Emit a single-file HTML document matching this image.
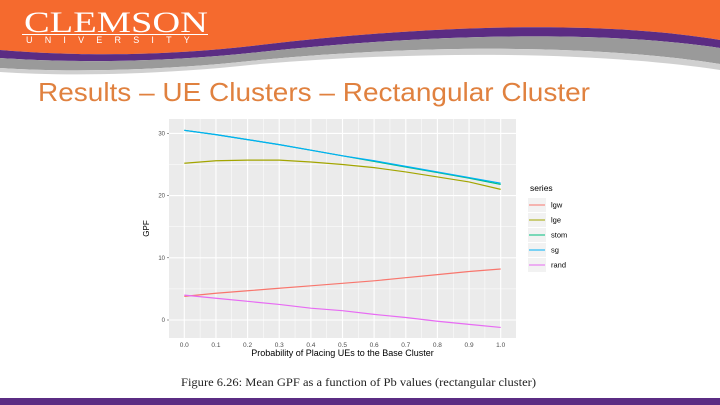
<!DOCTYPE html>
<html><head><meta charset="utf-8"><style>
body{margin:0;width:720px;height:405px;overflow:hidden;background:#fff;font-family:"Liberation Sans",sans-serif}
svg{position:absolute;left:0;top:0}
</style></head><body>
<svg width="720" height="405">
<g>
<path d="M0,0H720V40C600,20 430,25 260,45C150,58 60,55 0,50Z" fill="#F56A2E"/>
<path d="M0,50C60,55 150,58 260,45C430,25 600,20 720,40V48C600,30 430,34 260,52C150,64 60,62 0,58Z" fill="#5B2C83"/>
<path d="M720,48C600,30 430,34 260,52C150,64 60,62 0,58V68C60,72 150,72 260,60C430,44 600,45 720,64Z" fill="#9a9a9a"/>
<path d="M720,64C600,45 430,44 260,60C150,72 60,72 0,68V72C60,76 150,76 260,64C430,50 600,52 720,70Z" fill="#d0d0d0"/>
<text x="24" y="32" font-family="Liberation Serif,serif" font-size="30" fill="#fff" textLength="184" lengthAdjust="spacingAndGlyphs">CLEMSON</text>
<line x1="22" y1="34.5" x2="208" y2="34.5" stroke="#fff" stroke-width="1"/>
<text x="26" y="43" font-size="9" fill="#fff" letter-spacing="12.2">UNIVERSITY</text>
</g>
<text x="38" y="101" font-size="26" fill="#E0813F" textLength="552" lengthAdjust="spacingAndGlyphs">Results – UE Clusters – Rectangular Cluster</text>
<rect x="0" y="398" width="720" height="7" fill="#5B2C83"/>
<g id="chart"></g>
<text x="181" y="386" font-family="Liberation Serif,serif" font-size="12" fill="#222" textLength="355" lengthAdjust="spacingAndGlyphs">Figure 6.26: Mean GPF as a function of Pb values (rectangular cluster)</text>
</svg>
<script>
const xs=[0,0.1,0.2,0.3,0.4,0.5,0.6,0.7,0.8,0.9,1.0];
const lgw=[3.8,4.3,4.7,5.1,5.5,5.9,6.3,6.8,7.3,7.8,8.2];
const lge=[25.2,25.6,25.7,25.7,25.4,25.0,24.5,23.8,23.0,22.2,21.0];
const stom=[30.5,29.8,29.0,28.2,27.3,26.4,25.5,24.6,23.7,22.8,21.8];
const sg=[30.5,29.8,29.0,28.2,27.3,26.4,25.6,24.7,23.8,22.9,22.0];
const rand=[4.0,3.5,3.0,2.5,1.9,1.5,0.9,0.4,-0.2,-0.7,-1.2];
const yTicks=[0,10,20,30];
const xTicks=[0,0.1,0.2,0.3,0.4,0.5,0.6,0.7,0.8,0.9,1.0];
const seriesNames=["lgw","lge","stom","sg","rand"];
const colors=["#F8766D","#A3A500","#00BF7D","#00B0F6","#E76BF3"];
const NS="http://www.w3.org/2000/svg";
const g=document.getElementById('chart');
const L=169,R=516,T=119,B=338;
const X=v=>184.3+v*(500.7-184.3);
const Y=v=>320-v*6.22;
function el(t,a,p){const e=document.createElementNS(NS,t);for(const k in a)e.setAttribute(k,a[k]);(p||g).appendChild(e);return e;}
const bg=el('rect',{x:L,y:T,width:R-L,height:B-T,fill:'#EBEBEB'});


for(let v=-5;v<=35;v+=5){const y=Y(v);if(y<T||y>B)continue;el('line',{x1:L,x2:R,y1:y,y2:y,stroke:'#fff','stroke-width':v%10==0?1.1:0.5});}
for(let i=-1;i<=21;i++){const v=i*0.05,x=X(v);if(x<L||x>R)continue;el('line',{x1:x,x2:x,y1:T,y2:B,stroke:'#fff','stroke-width':i%2==0?1.1:0.5});}
yTicks.forEach(v=>{const t=el('text',{x:L-4,y:Y(v)+2,'font-size':6,'text-anchor':'end',fill:'#4d4d4d'});t.textContent=v;


el('line',{x1:L-2,x2:L,y1:Y(v),y2:Y(v),stroke:'#333','stroke-width':0.5});});
xTicks.forEach(v=>{const t=el('text',{x:X(v),y:B+9,'font-size':6.5,'text-anchor':'middle',fill:'#4d4d4d'});t.textContent=v.toFixed(1);

});
const xt=el('text',{x:(L+R)/2,y:B+18,'font-size':9,'text-anchor':'middle',fill:'#000'});xt.textContent='Probability of Placing UEs to the Base Cluster';


const yt=el('text',{x:0,y:0,'font-size':8,'text-anchor':'middle',fill:'#000',transform:`translate(${L-20},${(T+B)/2}) rotate(-90)`});yt.textContent='GPF';


[lgw,lge,stom,sg,rand].forEach((s,i)=>{const p=el('polyline',{points:s.map((v,j)=>X(xs[j])+','+Y(v)).join(' '),fill:'none',stroke:colors[i],'stroke-width':1.2});

});
const lt=el('text',{x:530,y:191,'font-size':8.5,fill:'#000'});lt.textContent='series';


seriesNames.forEach((n,i)=>{const y=205+i*15;const lg=el('g',{});


el('rect',{x:528,y:y-7,width:18,height:14,fill:'#F2F2F2'},lg);
el('line',{x1:529,x2:545,y1:y,y2:y,stroke:colors[i],'stroke-width':1},lg);
const t=el('text',{x:551,y:y+2.5,'font-size':7.5,fill:'#000'},lg);t.textContent=n;});
</script>
</body></html>
